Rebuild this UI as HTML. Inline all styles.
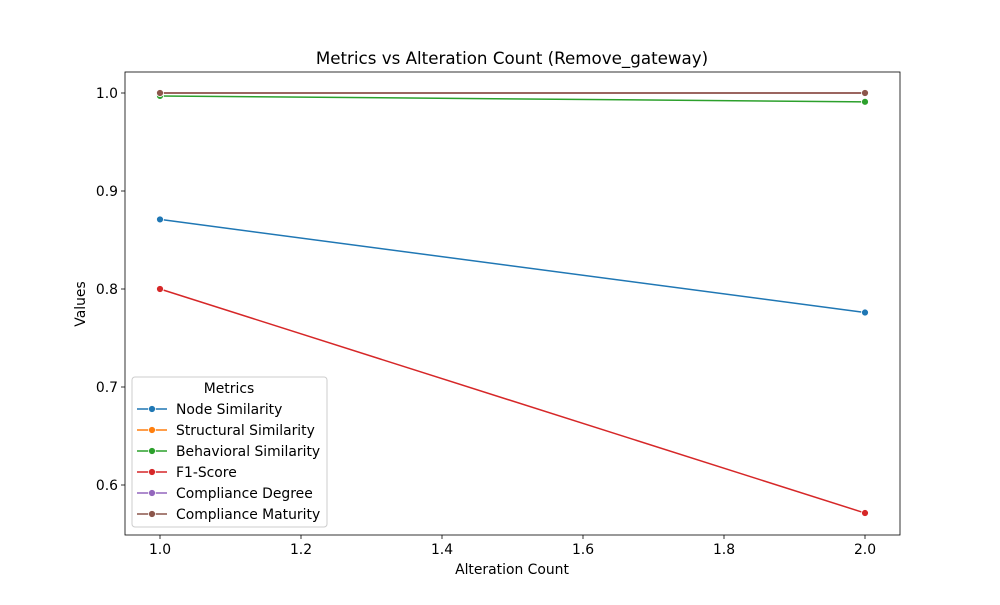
<!DOCTYPE html>
<html><head><meta charset="utf-8"><style>
body{margin:0;background:#fff;font-family:"Liberation Sans","DejaVu Sans",sans-serif}
</style></head><body>
<svg id="chart" width="1000" height="600" xmlns="http://www.w3.org/2000/svg" font-family="DejaVu Sans, Liberation Sans, sans-serif">
<rect width="1000" height="600" fill="#fff"/>
<text x="512" y="64" font-size="16.7" text-anchor="middle">Metrics vs Alteration Count (Remove_gateway)</text>
<g id="axes"></g>
<g id="series"></g>
<g id="legend"></g>
</svg>
<script>
const xValues=[1,2];
const seriesNames=["Node Similarity","Structural Similarity","Behavioral Similarity","F1-Score","Compliance Degree","Compliance Maturity"];
const colors=["#1f77b4","#ff7f0e","#2ca02c","#d62728","#9467bd","#8c564b"];
const nodeSim=[0.871,0.776];
const structSim=[1.0,1.0];
const behavSim=[0.997,0.991];
const f1Score=[0.8,0.5714];
const compDeg=[1.0,1.0];
const compMat=[1.0,1.0];
const xTicks=[1.0,1.2,1.4,1.6,1.8,2.0];
const yTicks=[0.6,0.7,0.8,0.9,1.0];
const allSeries=[nodeSim,structSim,behavSim,f1Score,compDeg,compMat];
const L=125,R=900,T=72,B=535;
const xs=v=>160+(v-1)*705;
const ys=v=>93+(1-v)*980;
const NS="http://www.w3.org/2000/svg";
function mk(tag,attrs,parent,text){const e=document.createElementNS(NS,tag);for(const k in attrs)e.setAttribute(k,attrs[k]);if(text!==undefined)e.textContent=text;parent.appendChild(e);return e;}
const ax=document.getElementById('axes');
const frame=mk('rect',{x:L,y:T,width:R-L,height:B-T,fill:'none',stroke:'#000','stroke-width':0.8},ax);


xTicks.forEach(t=>{const x=xs(t);mk('line',{x1:x,x2:x,y1:B,y2:B+4,stroke:'#000','stroke-width':0.8},ax);
const tx=mk('text',{x:x,y:B+19,'font-size':13.9,'text-anchor':'middle'},ax,t.toFixed(1));

});
yTicks.forEach(t=>{const y=ys(t);mk('line',{x1:L-4,x2:L,y1:y,y2:y,stroke:'#000','stroke-width':0.8},ax);
const tx=mk('text',{x:L-7,y:y+5,'font-size':13.9,'text-anchor':'end'},ax,t.toFixed(1));

});
const xt=mk('text',{x:512,y:574,'font-size':13.9,'text-anchor':'middle'},ax,'Alteration Count');


const yt=mk('text',{x:85,y:304,'font-size':13.9,'text-anchor':'middle',transform:'rotate(-90 85 304)'},ax,'Values');


const sg=document.getElementById('series');
allSeries.forEach((s,i)=>{const g=mk('g',{},sg);


mk('polyline',{points:s.map((v,j)=>xs(xValues[j])+','+ys(v)).join(' '),fill:'none',stroke:colors[i],'stroke-width':1.5},g);
s.forEach((v,j)=>{const c=mk('circle',{cx:xs(xValues[j]),cy:ys(v),r:3.5,fill:colors[i],stroke:'#fff','stroke-width':0.8},g);

});});
const lg=document.getElementById('legend');


mk('rect',{x:132,y:377,width:195,height:150,rx:3,fill:'#fff','fill-opacity':0.8,stroke:'#ccc'},lg);
mk('text',{x:229,y:393,'font-size':13.9,'text-anchor':'middle'},lg,'Metrics');
seriesNames.forEach((n,i)=>{const y=409+i*21;const g=mk('g',{},lg);


mk('line',{x1:137,x2:167,y1:y,y2:y,stroke:colors[i],'stroke-width':1.5},g);
mk('circle',{cx:152,cy:y,r:3.5,fill:colors[i],stroke:'#fff','stroke-width':0.8},g);
mk('text',{x:176,y:y+5,'font-size':13.9},g,n);});
</script>
</body></html>
